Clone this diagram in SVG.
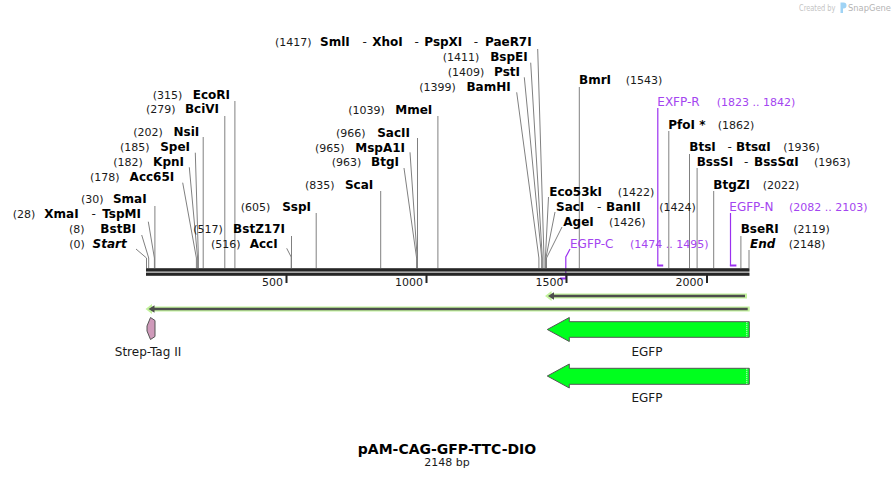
<svg xmlns="http://www.w3.org/2000/svg" width="896" height="479" viewBox="0 0 896 479">
<style>
text{font-family:"DejaVu Sans",Verdana,sans-serif;}
.n{font-size:11px;fill:#1a1a1a;}
.b{font-size:12px;font-weight:bold;fill:#000;}
.r{font-size:12px;fill:#1a1a1a;}
.bi{font-size:12px;font-weight:bold;font-style:italic;fill:#000;}
.p{font-size:12px;fill:#a445f0;}
.pn{font-size:11px;fill:#a445f0;}
.e{fill:none;stroke:#808080;stroke-width:1;}
.pl{fill:none;stroke:#9b30f0;stroke-width:1.2;}
.pb{fill:#9b30f0;}
.t{font-size:11px;fill:#1a1a1a;text-anchor:end;}
.lg{fill:#c2f29c;}
.dk{fill:none;stroke:#4d4d4d;stroke-width:2.5;}
.dh{fill:#4d4d4d;}
.gf{fill:#00ff1e;stroke:#555;stroke-width:1;}
.fl{font-size:12px;fill:#1a1a1a;text-anchor:middle;}
</style>

<g id="connectors">
<!-- left group -->
<polyline class="e" points="136,249 146.5,258 146.5,268"/>
<polyline class="e" points="141.7,235 148.7,258 148.7,268"/>
<polyline class="e" points="148.3,221.7 154.4,258 154.4,268"/>
<line class="e" x1="154.9" y1="206" x2="154.9" y2="268"/>
<polyline class="e" points="182.7,182.7 196.4,258 196.4,268"/>
<polyline class="e" points="189.3,167.3 197.6,258 197.6,268"/>
<polyline class="e" points="195.3,152.7 198.4,258 198.4,268"/>
<line class="e" x1="203.2" y1="137" x2="203.2" y2="268"/>
<line class="e" x1="224.8" y1="116" x2="224.8" y2="268"/>
<line class="e" x1="234.9" y1="101" x2="234.9" y2="268"/>
<polyline class="e" points="286.7,248.3 291.2,257 291.2,268"/>
<line class="e" x1="291.5" y1="236" x2="291.5" y2="268"/>
<line class="e" x1="316.2" y1="213" x2="316.2" y2="268"/>
<line class="e" x1="380.7" y1="191" x2="380.7" y2="268"/>
<polyline class="e" points="404,168 416.6,258 416.6,268"/>
<polyline class="e" points="410,152.3 417.2,258 417.2,268"/>
<line class="e" x1="417.5" y1="138" x2="417.5" y2="268"/>
<line class="e" x1="437.9" y1="116" x2="437.9" y2="268"/>
<polyline class="e" points="516.7,92.3 538.9,258 538.9,268"/>
<polyline class="e" points="524.3,77.3 541.7,258 541.7,268"/>
<polyline class="e" points="530.7,62.7 542.3,258 542.3,268"/>
<polyline class="e" points="537.7,49 544,258 544,268"/>
<!-- right group -->
<polyline class="e" points="548.5,197 545.4,258 545.4,268"/>
<polyline class="e" points="555,212 545.9,258 545.9,268"/>
<polyline class="e" points="562,227 546.5,258 546.5,268"/>
<line class="e" x1="579.3" y1="87" x2="579.3" y2="268"/>
<line class="e" x1="668.8" y1="131" x2="668.8" y2="268"/>
<line class="e" x1="689.5" y1="154" x2="689.5" y2="268"/>
<line class="e" x1="697.1" y1="168" x2="697.1" y2="268"/>
<line class="e" x1="713.7" y1="191" x2="713.7" y2="268"/>
<line class="e" x1="740.9" y1="236" x2="740.9" y2="268"/>
<line class="e" x1="749" y1="250" x2="749" y2="268"/>
<!-- primers -->
<polyline class="pl" points="570,249 565.8,257 565.8,279"/>
<rect class="pb" x="560" y="277.5" width="6.4" height="2"/>
<line class="pl" x1="657.8" y1="108" x2="657.8" y2="266"/>
<rect class="pb" x="657.2" y="264.5" width="6" height="2"/>
<line class="pl" x1="730.5" y1="213" x2="730.5" y2="266"/>
<rect class="pb" x="729.9" y="264.5" width="6.5" height="2"/>
</g>

<g id="backbone">
<rect x="146" y="268.2" width="603.5" height="3.4" fill="#262626"/>
<rect x="146" y="272.6" width="603.5" height="3.2" fill="#262626"/>
<rect x="285.5" y="275" width="2" height="8" fill="#262626"/>
<rect x="425.5" y="275" width="2" height="8" fill="#262626"/>
<rect x="565.5" y="275" width="2" height="8" fill="#262626"/>
<rect x="706" y="275" width="2" height="8" fill="#262626"/>
<text class="t" x="283" y="286">500</text>
<text class="t" x="423" y="286">1000</text>
<text class="t" x="563.5" y="286">1500</text>
<text class="t" x="703.5" y="286">2000</text>
</g>

<!-- enzyme labels, left -->
<g id="EcoRI"><text class="n" x="152.7" y="99">(315)</text><text class="b" x="230" y="99" text-anchor="end">EcoRI</text></g>
<g id="BciVI"><text class="n" x="146" y="113.3">(279)</text><text class="b" x="219" y="113.3" text-anchor="end">BciVI</text></g>
<g id="NsiI"><text class="n" x="133.3" y="136">(202)</text><text class="b" x="199.3" y="136" text-anchor="end">NsiI</text></g>
<g id="SpeI"><text class="n" x="120" y="150.7">(185)</text><text class="b" x="190" y="150.7" text-anchor="end">SpeI</text></g>
<g id="KpnI"><text class="n" x="113.3" y="165.7">(182)</text><text class="b" x="184" y="165.7" text-anchor="end">KpnI</text></g>
<g id="Acc65I"><text class="n" x="90" y="180.7">(178)</text><text class="b" x="174.3" y="180.7" text-anchor="end">Acc65I</text></g>
<g id="SmaI"><text class="n" x="81" y="203.3">(30)</text><text class="b" x="146.7" y="203.3" text-anchor="end">SmaI</text></g>
<g id="XmaI"><text class="n" x="12.7" y="218.3">(28)</text><text class="b" x="44.3" y="218.3">XmaI</text><text class="r" x="91.5" y="218.3">-</text><text class="b" x="141" y="218.3" text-anchor="end">TspMI</text></g>
<g id="BstBI"><text class="n" x="69" y="233.3">(8)</text><text class="b" x="136" y="233.3" text-anchor="end">BstBI</text></g>
<g id="Start"><text class="n" x="69.3" y="248.3">(0)</text><text class="bi" x="126.7" y="248.3" text-anchor="end">Start</text></g>
<g id="BstZ17I"><text class="n" x="193.3" y="233.3">(517)</text><text class="b" x="285" y="233.3" text-anchor="end">BstZ17I</text></g>
<g id="AccI"><text class="n" x="211" y="248.3">(516)</text><text class="b" x="277.7" y="248.3" text-anchor="end">AccI</text></g>
<g id="SspI"><text class="n" x="240.7" y="211.3">(605)</text><text class="b" x="311" y="211.3" text-anchor="end">SspI</text></g>
<g id="ScaI"><text class="n" x="305" y="189.3">(835)</text><text class="b" x="373.3" y="189.3" text-anchor="end">ScaI</text></g>
<g id="BtgI"><text class="n" x="331.7" y="166">(963)</text><text class="b" x="399" y="166" text-anchor="end">BtgI</text></g>
<g id="MspA1I"><text class="n" x="315" y="151.7">(965)</text><text class="b" x="405" y="151.7" text-anchor="end">MspA1I</text></g>
<g id="SacII"><text class="n" x="336" y="136.7">(966)</text><text class="b" x="410" y="136.7" text-anchor="end">SacII</text></g>
<g id="MmeI"><text class="n" x="348.3" y="114">(1039)</text><text class="b" x="432.3" y="114" text-anchor="end">MmeI</text></g>
<g id="BamHI"><text class="n" x="419.3" y="90.7">(1399)</text><text class="b" x="510.7" y="90.7" text-anchor="end">BamHI</text></g>
<g id="PstI"><text class="n" x="447.7" y="75.7">(1409)</text><text class="b" x="520" y="75.7" text-anchor="end">PstI</text></g>
<g id="BspEI"><text class="n" x="442.7" y="60.7">(1411)</text><text class="b" x="527.7" y="60.7" text-anchor="end">BspEI</text></g>
<g id="SmlI"><text class="n" x="275" y="45.7">(1417)</text><text class="b" x="320" y="45.7">SmlI</text><text class="r" x="362.5" y="45.7">-</text><text class="b" x="372.3" y="45.7">XhoI</text><text class="r" x="414.5" y="45.7">-</text><text class="b" x="424.3" y="45.7">PspXI</text><text class="r" x="473.8" y="45.7">-</text><text class="b" x="531.7" y="45.7" text-anchor="end">PaeR7I</text></g>

<!-- enzyme labels, right -->
<g id="BmrI"><text class="b" x="579" y="84">BmrI</text><text class="n" x="625.7" y="84">(1543)</text></g>
<g id="EXFP-R"><text class="p" x="657.3" y="106">EXFP-R</text><text class="pn" x="716.7" y="106">(1823 .. 1842)</text></g>
<g id="PfoI"><text class="b" x="668.3" y="129">PfoI *</text><text class="n" x="717.7" y="129">(1862)</text></g>
<g id="BtsI"><text class="b" x="689.3" y="150.7">BtsI</text><text class="r" x="727.5" y="150.7">-</text><text class="b" x="736" y="150.7">BtsαI</text><text class="n" x="783.3" y="150.7">(1936)</text></g>
<g id="BssSI"><text class="b" x="696.7" y="166">BssSI</text><text class="r" x="744" y="166">-</text><text class="b" x="754" y="166">BssSαI</text><text class="n" x="814" y="166">(1963)</text></g>
<g id="BtgZI"><text class="b" x="713.3" y="189.3">BtgZI</text><text class="n" x="762.7" y="189.3">(2022)</text></g>
<g id="Eco53kI"><text class="b" x="549.3" y="196">Eco53kI</text><text class="n" x="617.7" y="196">(1422)</text></g>
<g id="SacI"><text class="b" x="556" y="210.7">SacI</text><text class="r" x="597" y="210.7">-</text><text class="b" x="606" y="210.7">BanII</text><text class="n" x="659.3" y="210.7">(1424)</text></g>
<g id="AgeI"><text class="b" x="563.3" y="225.7">AgeI</text><text class="n" x="609" y="225.7">(1426)</text></g>
<g id="EGFP-C"><text class="p" x="570" y="248.3">EGFP-C</text><text class="pn" x="630" y="248.3">(1474 .. 1495)</text></g>
<g id="EGFP-N"><text class="p" x="729.3" y="210.7">EGFP-N</text><text class="pn" x="789" y="210.7">(2082 .. 2103)</text></g>
<g id="BseRI"><text class="b" x="740.7" y="233.3">BseRI</text><text class="n" x="793.3" y="233.3">(2119)</text></g>
<g id="End"><text class="bi" x="750" y="248.3">End</text><text class="n" x="788.7" y="248.3">(2148)</text></g>

<!-- features -->
<g id="feature-short">
<polygon class="lg" points="545,296 551.5,291 551.5,293.5 747,293.5 747,298.5 551.5,298.5 551.5,301"/>
<line class="dk" x1="552" y1="296" x2="745" y2="296"/>
<polygon class="dh" points="548,296 554,292.3 554,299.7"/>
</g>
<g id="feature-long">
<polygon class="lg" points="145.5,309 152,304 152,306.5 749.7,306.5 749.7,311.5 152,311.5 152,314"/>
<line class="dk" x1="152" y1="309" x2="747.7" y2="309"/>
<polygon class="dh" points="148.5,309 154.5,305.3 154.5,312.7"/>
</g>
<g id="Strep-Tag-II">
<polygon points="150.5,317.5 155,320.5 155,336.5 150.5,339.5 147,331 147,326" fill="#cf9aba" stroke="#555" stroke-width="1"/>
<text class="fl" x="148" y="356">Strep-Tag II</text>
</g>
<g id="EGFP-1">
<polygon class="gf" points="547.3,329.5 569.3,317.5 569.3,321.7 749.3,321.7 749.3,337.3 569.3,337.3 569.3,341.5"/>
<line x1="746.8" y1="322.2" x2="746.8" y2="336.8" stroke="#fff" stroke-width="1" stroke-dasharray="1 1"/>
<text class="fl" x="647" y="356">EGFP</text>
</g>
<g id="EGFP-2">
<polygon class="gf" points="547.3,376 569.3,364 569.3,368.3 749.3,368.3 749.3,384.3 569.3,384.3 569.3,388"/>
<line x1="746.8" y1="368.8" x2="746.8" y2="383.8" stroke="#fff" stroke-width="1" stroke-dasharray="1 1"/>
<text class="fl" x="647" y="402">EGFP</text>
</g>

<g id="title">
<text x="447" y="453.5" text-anchor="middle" style="font-size:14px;font-weight:bold;fill:#000">pAM-CAG-GFP-TTC-DIO</text>
<text x="447" y="466" text-anchor="middle" style="font-size:11px;fill:#1a1a1a">2148 bp</text>
</g>

<g id="logo">
<text x="799" y="10.5" textLength="36.5" lengthAdjust="spacingAndGlyphs" style="font-size:8px;fill:#c4c4c4">Created by</text>
<path d="M840.5,2.5 h3 a3,3 0 0 1 0,6 h-0.5 v4.5 h-2.5 z" fill="#9fd3f5"/>
<text x="848" y="11" textLength="43" lengthAdjust="spacingAndGlyphs" style="font-size:9.5px;fill:#b4b4b4">SnapGene</text>
</g>
</svg>
